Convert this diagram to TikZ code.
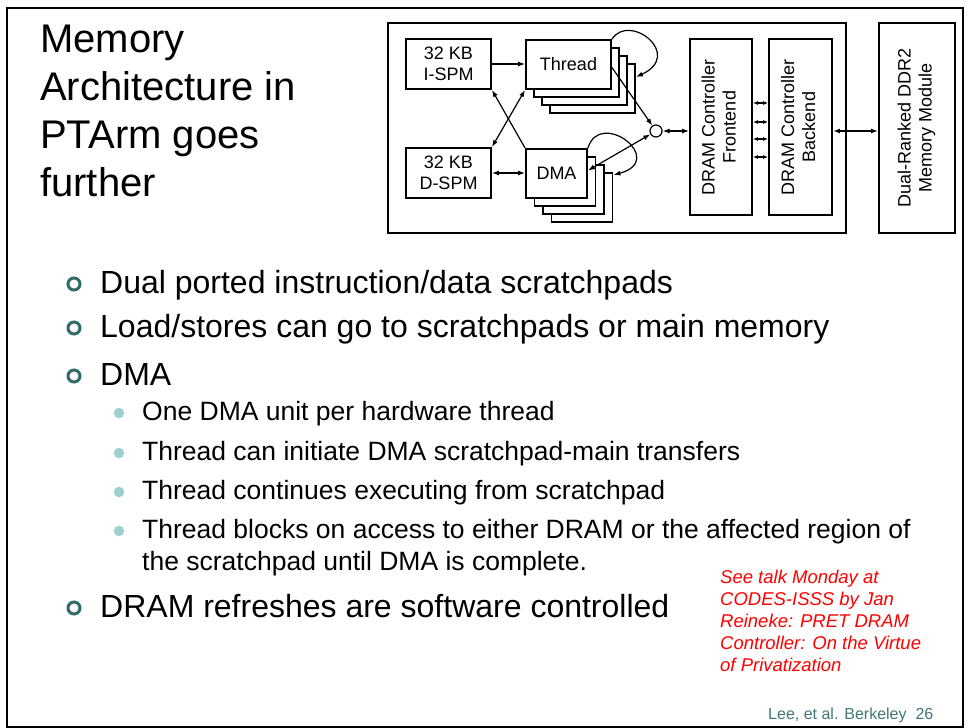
\documentclass[tikz,border=0pt]{standalone}
\usepackage{fontspec}
\setmainfont{Liberation Sans}
\usetikzlibrary{arrows.meta}
\definecolor{ringteal}{RGB}{47,107,107}
\definecolor{dotteal}{RGB}{156,207,207}
\definecolor{footteal}{RGB}{64,120,120}

\tikzset{
  unit/.style={draw, line width=1.9pt, fill=white, inner sep=0pt, align=center, font=\fontsize{18}{21}\selectfont},
  link/.style={line width=1.2pt},
  ring/.style={circle, draw=ringteal, line width=3pt, minimum size=12pt, inner sep=0pt},
  dot/.style={circle, fill=dotteal, minimum size=10.5pt, inner sep=0pt},
  headline/.style={anchor=base west, inner sep=0pt, font=\fontsize{40}{48}\selectfont},
  mainitem/.style={anchor=base west, inner sep=0pt, font=\fontsize{32}{38}\selectfont},
  subitem/.style={anchor=base west, inner sep=0pt, font=\fontsize{26.5}{32}\selectfont},
}

\begin{document}
\begin{tikzpicture}[x=1pt, y=-1pt, >={Latex[length=7pt,width=5pt]}]
\useasboundingbox (0,0) rectangle (969,728);
\draw[line width=2pt] (7,8) rectangle (963,727);

% title
\node[headline] (title1) at (40,52)  {Memory};
\node[headline] (title2) at (40,100) {Architecture in};
\node[headline] (title3) at (40,148) {PTArm goes};
\node[headline] (title4) at (40,196) {further};

% block diagram
\node[unit, minimum width=458pt, minimum height=210pt] (chip) at (617,128) {};
\node[unit, minimum width=85pt, minimum height=50pt] (ispm) at (448.5,64) {32 KB\\I-SPM};
\node[unit, minimum width=85pt, minimum height=50pt] (dspm) at (448.5,173) {32 KB\\D-SPM};
\foreach \i in {3,2,1}
  \node[unit, minimum width=85pt, minimum height=49pt] (thread-\i) at (568.5+8*\i,64.5+8*\i) {};
\node[unit, minimum width=85pt, minimum height=49pt] (thread) at (568.5,64.5) {Thread};
\foreach \i in {3,2,1}
  \node[unit, minimum width=61pt, minimum height=49pt] (dma-\i) at (556.5+8.5*\i,173.5+8*\i) {};
\node[unit, minimum width=61pt, minimum height=49pt] (dma) at (556.5,173.5) {DMA};
\node[circle, draw, line width=1.2pt, minimum size=12pt, inner sep=0pt] (join) at (656,131) {};
\node[unit, minimum width=62pt, minimum height=176pt] (front) at (721,127)
  {\rotatebox{90}{\begin{tabular}{@{}c@{}}DRAM Controller\\Frontend\end{tabular}}};
\node[unit, minimum width=63pt, minimum height=176pt] (back) at (800.5,127)
  {\rotatebox{90}{\begin{tabular}{@{}c@{}}DRAM Controller\\Backend\end{tabular}}};
\node[unit, minimum width=76pt, minimum height=210pt] (ddr) at (917,128)
  {\rotatebox{90}{\begin{tabular}{@{}c@{}}Dual-Ranked DDR2\\Memory Module\end{tabular}}};

\draw[link, ->] (ispm.east) -- (thread.west |- ispm.east);
\draw[link, <->] (dspm.east) -- (dma.west |- dspm.east);
\draw[link, <->] (thread.south west) -- (dspm.north east);
\draw[link, ->] (dma.north west) -- (ispm.south east);
\draw[link, ->] ([yshift=-3pt]thread.east) -- (join);
\draw[link, <->] (join) -- ([yshift=3pt]dma.east);
\draw[link, <->] (join) -- (front.west |- join);
\foreach \y in {103,122,139,157} {
  \coordinate (lane) at (0,\y);
  \draw[link, {Latex[length=5pt,width=4pt]}-{Latex[length=5pt,width=4pt]}] (front.east |- lane) -- (back.west |- lane);
}
\draw[line width=1.8pt, <->] (back.east |- join) -- (ddr.west |- join);
% self loops
\draw[link, ->] (thread.north east) .. controls (630,12) and (684,55) .. ([yshift=11.5pt]thread-3.east);
\draw[link, ->] (dma.north east) .. controls (600,108) and (668,160) .. ([yshift=22.5pt]dma-3.east);

% bullets
\node[ring] (b1) at (74,284) {};
\node[mainitem] (t1) at (100,293) {Dual ported instruction/data scratchpads};
\node[ring] (b2) at (74,328) {};
\node[mainitem] (t2) at (100,337) {Load/stores can go to scratchpads or main memory};
\node[ring] (b3) at (74,376) {};
\node[mainitem] (t3) at (100,385) {DMA};
\node[dot] (s1) at (119,413) {};
\node[subitem] (u1) at (142,420) {One DMA unit per hardware thread};
\node[dot] (s2) at (119,453) {};
\node[subitem] (u2) at (142,460) {Thread can initiate DMA scratchpad-main transfers};
\node[dot] (s3) at (119,492) {};
\node[subitem] (u3) at (142,499) {Thread continues executing from scratchpad};
\node[dot] (s4) at (119,531) {};
\node[subitem] (u4) at (142,538) {Thread blocks on access to either DRAM or the affected region of};
\node[subitem] (u5) at (142,570) {the scratchpad until DMA is complete.};
\node[ring] (b4) at (74,608) {};
\node[mainitem] (t4) at (100,617) {DRAM refreshes are software controlled};

% side note and footer
\node[anchor=base west, inner sep=0pt, align=left, text=red, font=\fontsize{18.5}{22}\selectfont\itshape]
  (talk) at (720,671) {See talk Monday at\\CODES-ISSS by Jan\\Reineke: PRET DRAM\\Controller: On the Virtue\\of Privatization};
\node[anchor=base west, inner sep=0pt, text=footteal, font=\fontsize{16}{19}\selectfont]
  (foot) at (768,719) {Lee, et al. Berkeley\ \ 26};
\end{tikzpicture}
\end{document}
